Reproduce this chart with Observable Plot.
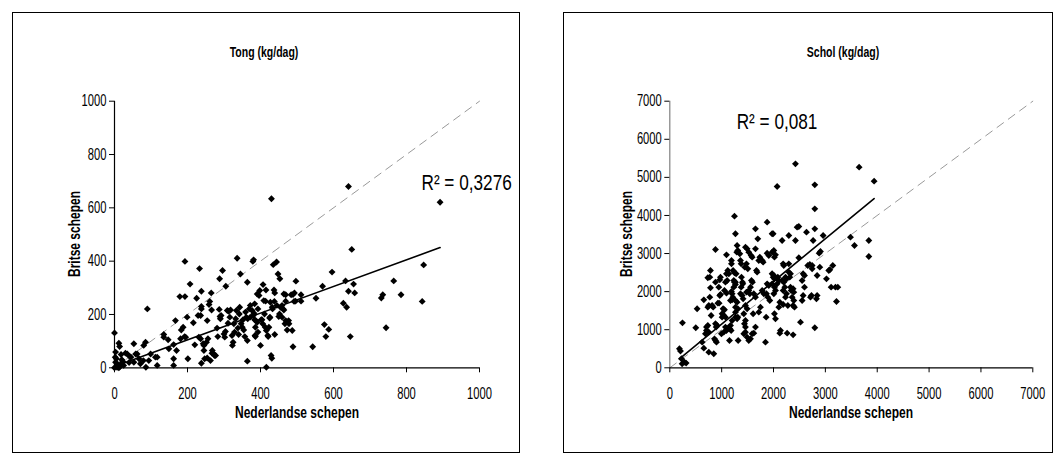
<!DOCTYPE html>
<html>
<head>
<meta charset="utf-8">
<script src="https://cdn.jsdelivr.net/npm/d3@7"></script>
<script src="https://cdn.jsdelivr.net/npm/@observablehq/plot@0.6"></script>
<style>
  html, body { margin: 0; padding: 0; background: #fff; }
  #page { position: relative; width: 1058px; height: 464px; overflow: hidden; background: #fff;
          font-family: "Liberation Sans", Arial, sans-serif; color: #000; }
  .box { position: absolute; border: 1px solid #000; box-sizing: border-box; }
  .panel { position: absolute; left: 0; top: 0; }
  .lbl { position: absolute; white-space: nowrap; font-weight: bold; font-size: 16px; transform: translate(-50%, -50%) scaleX(0.75); }
  .titel { font-size: 14px; }
  .rot { transform: translate(-50%, -50%) rotate(-90deg) scaleX(0.75); }
</style>
</head>
<body>
<div id="page">
  <div class="box" style="left:12px; top:12px; width:508px; height:441px;"></div>
  <div class="box" style="left:563px; top:12px; width:490px; height:441px;"></div>
  <div class="lbl titel" style="left:264px; top:52px;">Tong (kg/dag)</div>
  <div class="lbl titel" style="left:843px; top:52px;">Schol (kg/dag)</div>
  <div class="lbl rot" style="left:75px; top:234px;">Britse schepen</div>
  <div class="lbl rot" style="left:627px; top:234px;">Britse schepen</div>
  <div class="lbl" style="left:297px; top:413px;">Nederlandse schepen</div>
  <div class="lbl" style="left:851px; top:413px;">Nederlandse schepen</div>
</div>
<script>
// Daily landings: Dutch vessels (x) against British vessels (y), kg/dag.
const tongPunten = [
  [0,131],[12,92],[14,80],[3,59],[5,34],[3,21],[9,12],[15,5],[18,15],[23,24],[30,55],[35,52],[18,50],[25,9],[12,0],[0,0],[7,2],[2,40],[20,30],[40,20],[45,40],
  [42,42],[53,90],[58,52],[62,52],[53,21],[67,34],[71,15],[80,84],[85,96],[90,221],[79,27],[86,2],[94,27],[99,52],
  [112,40],[117,40],[117,9],[135,125],[135,115],[147,105],[149,71],[162,87],[162,34],[162,9],[167,177],[170,65],[183,142],[188,152],[181,109],[192,117],[195,115],[193,399],[179,267],[193,267],[199,190],[201,34],
  [207,314],[216,169],[220,86],[225,261],[229,196],[231,115],[236,196],[238,287],[238,221],[238,230],[238,17],[243,90],[245,84],[252,96],[247,34],[254,37],[256,109],[259,237],[261,249],[254,177],[265,281],[266,217],[268,65],[272,52],[274,46],[263,27],[267,55],[277,46],[236,109],[233,372],[245,65],
  [281,149],[283,117],[287,219],[289,192],[292,196],[290,184],[296,365],[288,334],[300,127],[302,115],[304,136],[305,306],[309,215],[311,167],[313,212],[316,190],[318,217],[322,121],[323,84],[325,96],[327,165],[329,134],[332,184],[334,215],[336,411],[338,149],[340,125],[342,202],[343,227],[345,352],[347,165],[350,152],[352,180],[354,142],[357,117],[359,209],[361,190],[364,321],[364,102],[364,25],[365,184],
  [369,221],[372,234],[377,215],[372,190],[380,196],[382,205],[384,180],[391,171],[386,152],[393,134],[386,117],[379,399],[381,405],[384,240],[385,121],[387,177],[391,277],[393,221],[396,271],[398,290],[400,84],[402,180],[404,180],[406,165],[407,312],[409,252],[411,202],[413,152],[414,250],[415,292],[416,140],[416,2],[420,121],[421,117],[423,152],[425,187],[426,190],[427,246],[429,46],[430,634],[431,36],[432,227],[433,221],[435,387],[437,292],[438,249],[439,281],[444,397],[439,125],[445,234],[448,352],[450,192],[452,202],[453,334],[455,227],[459,234],[459,190],[462,221],[464,217],[464,277],[467,165],[469,177],[469,274],[469,250],[473,142],[477,177],[478,165],[484,274],[487,140],[489,79],[489,275],[492,249],[493,281],[496,250],[497,325],
  [511,274],[511,250],[543,79],[552,261],[570,306],[575,162],[579,117],[587,144],[596,359],[627,242],[633,326],[636,227],[641,680],[641,287],[646,117],[650,444],[655,314],[658,281],
  [731,262],[735,274],[744,150],[765,326],[785,274],[843,249],[847,386],[892,621]
];

const scholPunten = [
  [186,499],[206,438],[238,105],[283,149],[315,123],[225,236],[244,1181],[501,1050],[527,1549],[624,674],[656,516],[656,1785],[707,1068],[733,1111],[707,980],[752,936],[688,893],[733,1593],[752,1636],[752,411],[848,368],
  [784,2555],[771,2380],[733,2363],[784,2100],[771,1855],[797,1374],[816,1636],[836,1593],[861,761],[881,718],[900,674],[881,3106],[881,2249],[894,1068],[881,1155],[913,1111],[926,1698],[951,1698],[964,1899],[977,1925],[977,2380],[964,2310],[945,2118],
  [996,893],[1041,936],[1093,980],[1073,1068],[1118,1024],[1009,1418],[1041,1374],[1009,1330],[1073,1330],[1028,1549],[1054,1523],[1054,2030],[1093,1960],[1073,2249],[1106,2293],[1093,2468],[1118,2555],[1138,2468],[1093,2966],
  [1151,718],[1157,1024],[1183,980],[1170,1111],[1202,1243],[1170,1768],[1202,1785],[1202,1943],[1215,1855],[1189,2004],[1189,2818],[1189,2730],[1234,2293],[1247,2249],[1266,2249],[1234,2118],[1266,2188],[1247,3981],[1266,3518],[1298,3211],[1311,3080],[1292,3036],[1221,2555],[1247,2494],[1279,2468],
  [1266,1768],[1298,1724],[1266,1593],[1311,1549],[1298,1286],[1311,1330],[1266,1330],[1266,1461],[1318,718],[1350,2993],[1363,2818],[1376,2730],[1382,2380],[1401,2249],[1408,2205],[1376,2118],[1363,1943],[1395,1899],[1414,1811],
  [1427,1418],[1459,1243],[1440,1155],[1459,1068],[1427,893],[1459,936],[1491,805],[1459,3168],[1491,3124],[1523,3036],[1446,2643],[1478,2730],[1504,2599],[1459,1636],[1491,1549],[1478,1986],[1523,2030],[1543,1943],[1523,718],[1556,761],[1588,893],[1575,2293],[1556,2118],[1594,2249],[1588,2905],[1568,2949],
  [1652,3649],[1652,3124],[1671,2555],[1684,2511],[1620,1943],[1652,1855],[1607,1418],[1652,1068],[1620,910],[1697,3386],[1716,2818],[1736,2905],[1748,1593],[1716,1461],[1781,2030],[1813,1943],[1800,2774],[1781,2818],[1845,674],[1858,1330],
  [1877,3824],[1877,2205],[1909,2161],[1864,1943],[1877,3010],[1909,2949],[1890,1855],[1928,1768],[1973,3518],[1993,3518],[1973,3036],[2006,3080],[1973,2468],[2006,2424],[1993,2380],[2018,2336],[1973,2205],[2018,2118],[2006,1943],[2038,2030],[2018,1418],[2038,1286],[2018,2905],[2038,2966],
  [2070,4760],[2083,2380],[2102,2293],[2070,2205],[2121,1724],[2102,1593],[2121,910],[2166,3343],[2186,2730],[2198,2686],[2166,2293],[2198,2249],[2218,2118],[2186,2030],[2231,2380],[2250,2336],[2231,1855],[2250,1943],[2263,910],
  [2295,3474],[2295,2511],[2327,2468],[2314,2380],[2327,2118],[2340,2030],[2378,2074],[2391,1986],[2359,1855],[2391,1768],[2378,1636],[2404,1593],[2378,866],[2423,5355],[2423,3343],[2455,3693],[2488,3710],[2488,2888],[2520,1199],
  [2552,1768],[2571,1899],[2552,2293],[2571,2468],[2597,2118],[2636,3561],[2661,2686],[2700,2713],[2745,2686],[2713,1855],[2732,1899],[2745,2599],[2764,3343],[2796,4804],[2796,4174],[2796,3649],[2796,1050],[2828,1811],[2841,1899],[2841,2424],
  [2880,3010],[2905,3054],[2893,2643],[2957,3474],[3021,2336],[3066,2555],[3086,2573],[3143,2686],[3111,2118],[3195,2118],[3240,2118],[3214,1741],[3484,3430],[3561,3211],[3651,5268],[3838,3343],[3838,2923],[3940,4900],
  [2295,2730],[2597,2424],[2134,980],[2186,1663],[2276,1636]
];

// Axis ranges and tick values
const tongBereik = [0, 1000];
const tongTicks = [0, 200, 400, 600, 800, 1000];
const scholBereik = [0, 7000];
const scholTicks = [0, 1000, 2000, 3000, 4000, 5000, 6000, 7000];

// Linear trendlines (Excel style) and their R² labels
const tongHelling = 0.5, tongAsafsnede = 5;
const scholHelling = 1.121, scholAsafsnede = 27;
const tongR2 = "R² = 0,3276";
const scholR2 = "R² = 0,081";
// anchor of each R² label, in data units
const tongR2Plek = [841, 691];
const scholR2Plek = [1290, 6440];

// narrow the lettering horizontally: each <text> gets its own x/y folded into a
// translate, followed by a horizontal squeeze around its anchor point
function smalleTekst(svg) {
  svg.querySelectorAll("text").forEach(t => {
    const factor = t.closest('[aria-label*="tick label"]') ? 0.7 : 0.8;
    const num = v => v != null && /^-?[\d.]+$/.test(v.trim());
    let tx = 0, ty = 0;
    const xa = t.getAttribute("x"), ya = t.getAttribute("y");
    if (num(xa)) { tx = +xa; t.removeAttribute("x"); }
    if (num(ya)) { ty = +ya; t.removeAttribute("y"); }
    const prev = t.getAttribute("transform") || "";
    t.setAttribute("transform", `${prev} translate(${tx},${ty}) scale(${factor},1)`);
  });
}

function paneel({punten, bereik, ticks, helling, asafsnede, r2, r2Plek, width, marginLeft, marginRight, yAxisColor}) {
  const xs = punten.map(d => d[0]);
  const trend = [d3.min(xs), d3.max(xs)].map(x => [x, asafsnede + helling * x]);
  const diagonaal = bereik.map(v => [v, v]);
  const svg = Plot.plot({
    width, height: 464,
    marginLeft, marginRight,
    marginTop: 100.7, marginBottom: 96.7,
    style: {fontFamily: '"Liberation Sans", Arial, sans-serif', fontSize: "16px", color: "#000", background: "transparent", overflow: "visible"},
    x: {domain: bereik},
    y: {domain: bereik},
    marks: [
      Plot.line(diagonaal, {x: d => d[0], y: d => d[1], stroke: "#9a9a9a", strokeWidth: 1, strokeDasharray: "8,6"}),
      Plot.dot(punten, {x: d => d[0], y: d => d[1], symbol: "diamond2", r: 3.1, fill: "#000", stroke: "none"}),
      Plot.line(trend, {x: d => d[0], y: d => d[1], stroke: "#000", strokeWidth: 1.6}),
      Plot.ruleX([bereik[0]], {stroke: yAxisColor, strokeWidth: 1.2}),
      Plot.ruleY([bereik[0]], {stroke: "#000", strokeWidth: 1.2}),
      Plot.axisX({ticks, tickSize: 5, tickPadding: 15, tickFormat: d => String(d), label: null, stroke: "#000"}),
      Plot.axisY({ticks, tickSize: 5, tickPadding: 3, tickFormat: d => String(d), label: null, stroke: "#000"}),
      Plot.text([r2], {x: () => r2Plek[0], y: () => r2Plek[1], text: d => d, textAnchor: "start", fontSize: 21.5, fill: "#000"})
    ]
  });
  smalleTekst(svg);
  return svg;
}

const page = document.getElementById("page");

const links = paneel({
  punten: tongPunten, bereik: tongBereik, ticks: tongTicks,
  helling: tongHelling, asafsnede: tongAsafsnede, r2: tongR2, r2Plek: tongR2Plek,
  width: 530, marginLeft: 114, marginRight: 51, yAxisColor: "#000"
});
links.classList.add("panel");
links.style.left = "0px";
page.appendChild(links);

const rechts = paneel({
  punten: scholPunten, bereik: scholBereik, ticks: scholTicks,
  helling: scholHelling, asafsnede: scholAsafsnede, r2: scholR2, r2Plek: scholR2Plek,
  width: 518, marginLeft: 129.3, marginRight: 25.7, yAxisColor: "#808080"
});
rechts.classList.add("panel");
rechts.style.left = "540px";
page.appendChild(rechts);
</script>
</body>
</html>
